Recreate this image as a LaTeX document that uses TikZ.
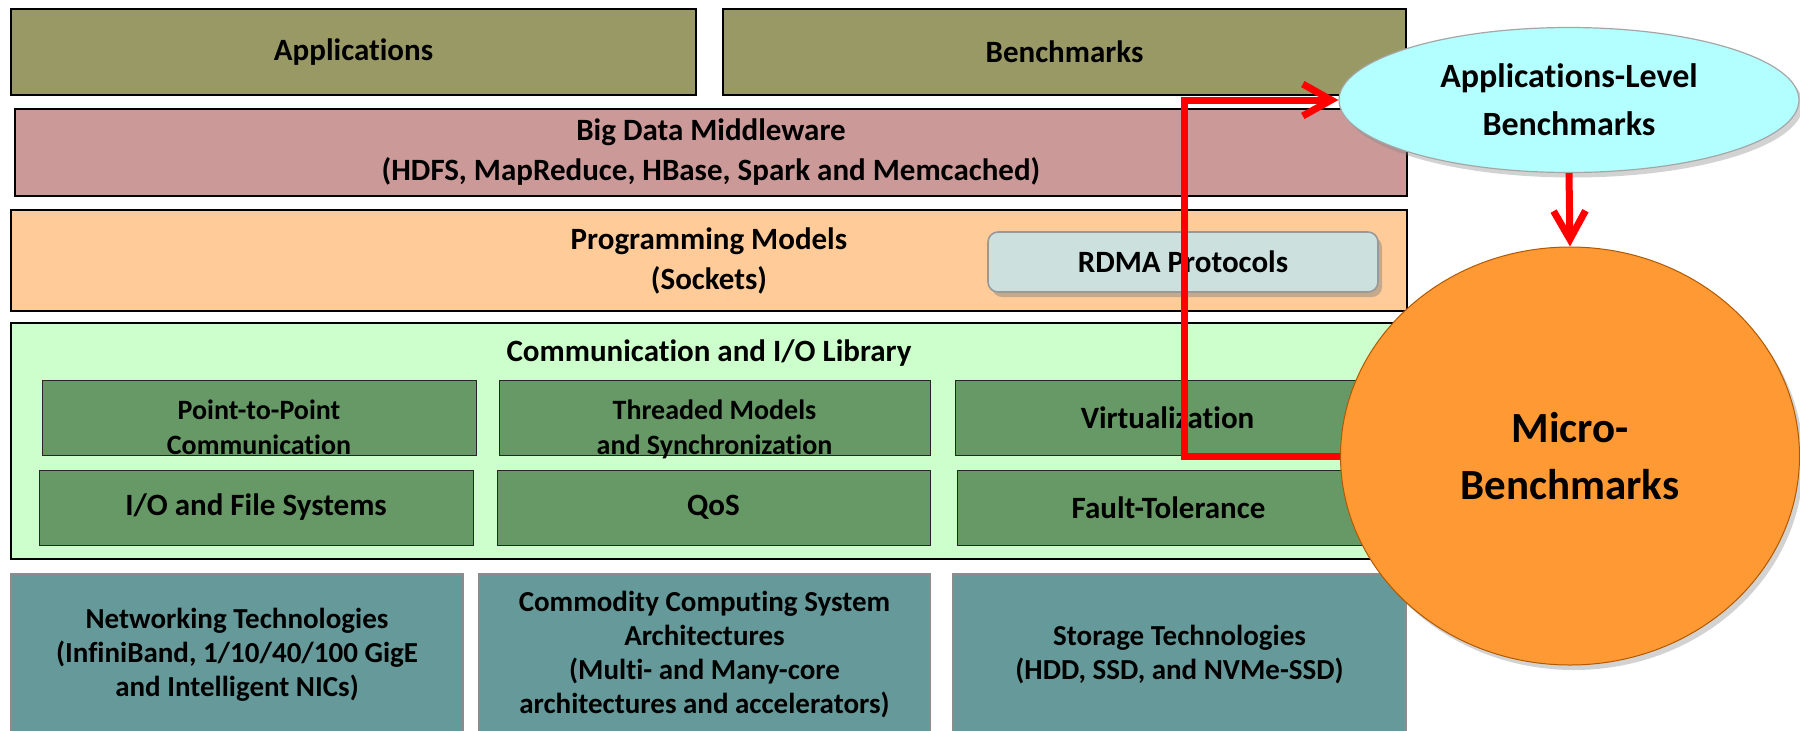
\documentclass[tikz,border=0pt]{standalone}
\usepackage{fontspec}
\setmainfont{Carlito}[Ligatures=NoCommon]
\usepackage{xcolor}
\usepackage{tikz}
\usetikzlibrary{arrows.meta, positioning, shapes.geometric, shadows}

\definecolor{olivebox}{RGB}{153,153,102}
\definecolor{pinkbox}{RGB}{204,153,153}
\definecolor{peachbox}{RGB}{255,204,153}
\definecolor{rdmabox}{RGB}{204,224,222}
\definecolor{mintbox}{RGB}{204,255,204}
\definecolor{greenbox}{RGB}{102,153,102}
\definecolor{tealbox}{RGB}{102,153,153}
\definecolor{cyanbox}{RGB}{179,255,255}
\definecolor{orangebox}{RGB}{255,153,51}

% two lines, set a little low in their box
\newcommand{\lowpair}[2]{\raisebox{-6pt}[\height][\depth]{\begin{tabular}{@{}c@{}}#1\\#2\end{tabular}}}

\begin{document}
\begin{tikzpicture}[x=0.5pt, y=-0.5pt,
    layer/.style={draw=black, line width=1.2pt, align=center, inner sep=0pt,
        font=\bfseries\fontsize{15.5}{20}\selectfont},
    sub/.style={draw=black!85, line width=0.5pt, fill=greenbox, align=center, inner sep=0pt,
        minimum height=37.5pt},
    hw/.style={draw=black!45, line width=0.6pt, fill=tealbox, align=center, inner sep=0pt,
        minimum height=81pt, font=\bfseries\fontsize{14.5}{17}\selectfont},
    bubble/.style={ellipse, align=center, inner sep=0pt,
        drop shadow={shadow xshift=2pt, shadow yshift=-2.5pt, opacity=0.35}},
    link/.style={draw=red, line width=3.5pt, -{Straight Barb[length=5mm, width=5.6mm]}}
]
\clip (0,0) rectangle (1800,730);
\fill[white] (0,0) rectangle (1800,730);

% upper layers
\node[layer, fill=olivebox, minimum width=342.5pt, minimum height=43pt] (apps) at (353.5,52) {Applications};
\node[layer, fill=olivebox, minimum width=341.5pt, minimum height=43pt] (bench) at (1064.5,52) {Benchmarks};
\node[layer, fill=pinkbox, minimum width=696pt, minimum height=43.5pt] (middleware) at (711,152.5)
    {Big Data Middleware\\(HDFS, MapReduce, HBase, Spark and Memcached)};
\node[layer, fill=peachbox, minimum width=698pt, minimum height=50.5pt] (progmodels) at (709,260.5)
    {Programming Models\\(Sockets)};
\node[draw=black!40, line width=0.8pt, fill=rdmabox, rounded corners=5pt, minimum width=195pt,
    minimum height=30pt, font=\bfseries\fontsize{15.5}{20}\selectfont,
    drop shadow={shadow xshift=2pt, shadow yshift=-2.5pt, opacity=0.45}] (rdma) at (1183,262) {RDMA Protocols};

% communication and I/O library
\node[layer, fill=mintbox, minimum width=698pt, minimum height=118pt] (commlib) at (709,441) {};
\node[font=\bfseries\fontsize{15.5}{20}\selectfont] (commtitle) at (709,353) {Communication and I/O Library};

\node[sub, minimum width=217pt, font=\bfseries\fontsize{14}{17.5}\selectfont] (p2p) at (259,417.5)
    {\lowpair{Point-to-Point}{Communication}};
\node[sub, minimum width=215.5pt, font=\bfseries\fontsize{14}{17.5}\selectfont] (threads) at (714.5,417.5)
    {\lowpair{Threaded Models}{and Synchronization}};
\node[sub, minimum width=212.5pt, font=\bfseries\fontsize{15.5}{20}\selectfont] (virt) at (1167.5,417.5)
    {Virtualization};
\node[sub, minimum width=217pt, font=\bfseries\fontsize{15.5}{20}\selectfont] (iofs) at (256,507.5)
    {I/O and File Systems};
\node[sub, minimum width=216.5pt, font=\bfseries\fontsize{15.5}{20}\selectfont] (qos) at (713.5,507.5)
    {QoS};
\node[sub, minimum width=211.5pt, font=\bfseries\fontsize{15.5}{20}\selectfont] (fault) at (1168.5,507.5)
    {Fault-Tolerance};

% hardware
\node[hw, minimum width=226pt] (network) at (237,655)
    {Networking Technologies\\(InfiniBand, 1/10/40/100 GigE\\and Intelligent NICs)};
\node[hw, minimum width=225.5pt] (arch) at (704.5,655)
    {Commodity Computing System\\Architectures\\(Multi- and Many-core\\architectures and accelerators)};
\node[hw, minimum width=226.5pt] (storage) at (1179.5,655)
    {Storage Technologies\\(HDD, SSD, and NVMe-SSD)};

% benchmark bubbles
\node[bubble, draw=black!35, line width=0.6pt, fill=cyanbox, minimum width=230pt, minimum height=72.5pt,
    font=\bfseries\fontsize{17}{24}\selectfont] (applevel) at (1569,100)
    {Applications-Level\\Benchmarks};
\node[bubble, draw=orange!70!black, line width=0.5pt, fill=orangebox, minimum width=229.5pt, minimum height=209pt,
    font=\bfseries\fontsize{21.5}{28.5}\selectfont] (micro) at (1570,456)
    {Micro-\\Benchmarks};

\coordinate (bend) at (1184,100);
\draw[link] (micro.west) -| (bend) -- (applevel.west);
\draw[link] (applevel.south) -- (micro.north);
\end{tikzpicture}
\end{document}
